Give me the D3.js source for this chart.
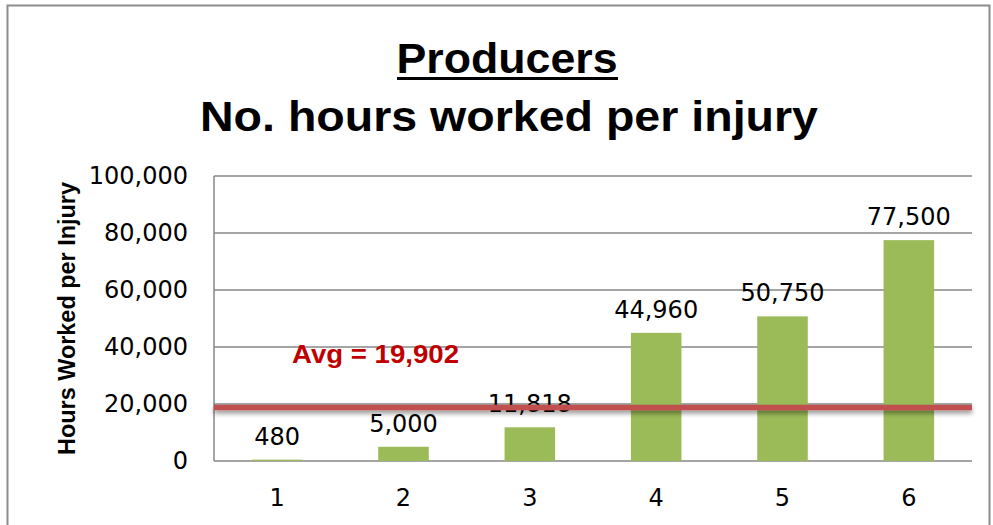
<!DOCTYPE html>
<html>
<head>
<meta charset="utf-8">
<script src="https://cdn.jsdelivr.net/npm/d3@7"></script>
<style>
  body { margin: 0; background: #fff; }
  svg { display: block; }
</style>
</head>
<body>
<div id="drawArea"></div>
<script>
// chart data
var categories = ["1", "2", "3", "4", "5", "6"];
var hoursPerInjury = [480, 5000, 11818, 44960, 50750, 77500];
var avgValue = 19902;
var yTicks = [0, 20000, 40000, 60000, 80000, 100000];
var titleLines = ["Producers", "No. hours worked per injury"];
var yAxisTitle = "Hours Worked per Injury";

var svg_width = 993;
var svg_height = 525;
var margin = {top: 176, right: 21, bottom: 64, left: 214};

var barColor = "#9BBB59";
var gridColor = "#878787";
var avgColor = "#C0504D";
var numFont = "'DejaVu Sans', Verdana, sans-serif";
var boldFont = "'Liberation Sans', Arial, sans-serif";

var svg = d3.select("#drawArea").append("svg")
	.attr("width", svg_width)
	.attr("height", svg_height);

// soft drop shadow for the average line (user space so a flat shape still renders)
var defs = svg.append("defs");
var shadow = defs.append("filter")
	.attr("id", "lineShadow")
	.attr("filterUnits", "userSpaceOnUse")
	.attr("x", 0).attr("y", 380)
	.attr("width", svg_width).attr("height", 60);
shadow.append("feGaussianBlur").attr("in", "SourceAlpha").attr("stdDeviation", 2.5).attr("result", "blur");
shadow.append("feOffset").attr("in", "blur").attr("dy", 3).attr("result", "off");
shadow.append("feComponentTransfer").attr("in", "off").attr("result", "soft")
	.append("feFuncA").attr("type", "linear").attr("slope", 0.45);
var merge = shadow.append("feMerge");
merge.append("feMergeNode").attr("in", "soft");
merge.append("feMergeNode").attr("in", "SourceGraphic");

// outer chart border
svg.append("rect")
	.attr("x", 7.5).attr("y", 5.5)
	.attr("width", 982).attr("height", 540)
	.attr("fill", "none")
	.attr("stroke", "#8c8c8c")
	.attr("stroke-width", 2);

var plotW = svg_width - margin.left - margin.right;
var plotH = svg_height - margin.top - margin.bottom;

var x = d3.scaleBand()
	.domain(categories)
	.range([margin.left, margin.left + plotW])
	.paddingInner(0.6)
	.paddingOuter(0.3);

var y = d3.scaleLinear()
	.domain([0, 100000])
	.range([margin.top + plotH, margin.top]);

// gridlines
svg.append("g")
	.selectAll("line")
	.data(yTicks)
	.enter()
	.append("line")
		.attr("x1", margin.left)
		.attr("x2", margin.left + plotW)
		.attr("y1", function(d) { return y(d); })
		.attr("y2", function(d) { return y(d); })
		.attr("stroke", gridColor)
		.attr("stroke-width", 1.5);

svg.append("line")
	.attr("x1", margin.left).attr("x2", margin.left)
	.attr("y1", y(100000)).attr("y2", y(0))
	.attr("stroke", gridColor)
	.attr("stroke-width", 1.5);

// y axis
var yAxis = d3.axisLeft(y)
	.tickValues(yTicks)
	.tickSize(0)
	.tickPadding(26)
	.tickFormat(d3.format(","));

var yg = svg.append("g")
	.attr("transform", "translate(" + margin.left + ",0)")
	.call(yAxis);
yg.select(".domain").remove();
yg.selectAll("text")
	.attr("font-family", numFont)
	.attr("font-size", 24)
	.attr("fill", "#000");

// x axis
var xAxis = d3.axisBottom(x).tickSize(0).tickPadding(28);
var xg = svg.append("g")
	.attr("transform", "translate(0," + y(0) + ")")
	.call(xAxis);
xg.select(".domain").remove();
xg.selectAll("text")
	.attr("font-family", numFont)
	.attr("font-size", 24)
	.attr("fill", "#000");

// bars
svg.append("g")
	.selectAll("rect")
	.data(hoursPerInjury)
	.enter()
	.append("rect")
		.attr("x", function(d, i) { return x(categories[i]); })
		.attr("width", x.bandwidth())
		.attr("y", function(d) { return y(d); })
		.attr("height", function(d) { return y(0) - y(d); })
		.attr("fill", barColor);

// value labels
svg.append("g")
	.selectAll("text")
	.data(hoursPerInjury)
	.enter()
	.append("text")
		.attr("x", function(d, i) { return x(categories[i]) + x.bandwidth() / 2; })
		.attr("y", function(d) { return y(d) - 15; })
		.attr("text-anchor", "middle")
		.attr("font-family", numFont)
		.attr("font-size", 24)
		.attr("fill", "#000")
		.text(function(d) { return d3.format(",")(d); });

// average line
svg.append("rect")
	.attr("x", margin.left)
	.attr("width", plotW)
	.attr("y", y(avgValue) + 0.5)
	.attr("height", 5.5)
	.attr("fill", avgColor)
	.attr("filter", "url(#lineShadow)");

svg.append("text")
	.attr("x", 292)
	.attr("y", y(40000) + 16)
	.attr("font-family", boldFont)
	.attr("font-weight", "bold")
	.attr("font-size", 26)
	.attr("fill", "#C00000")
	.attr("textLength", 167)
	.attr("lengthAdjust", "spacingAndGlyphs")
	.text("Avg = " + d3.format(",")(avgValue));

// titles
svg.append("text")
	.attr("x", 507)
	.attr("y", 73)
	.attr("text-anchor", "middle")
	.attr("font-family", boldFont)
	.attr("font-weight", "bold")
	.attr("font-size", 43)
	.attr("fill", "#000")
	.attr("textLength", 221)
	.attr("lengthAdjust", "spacingAndGlyphs")
	.text(titleLines[0]);

svg.append("line")
	.attr("x1", 397).attr("x2", 618)
	.attr("y1", 78.5).attr("y2", 78.5)
	.attr("stroke", "#000")
	.attr("stroke-width", 3);

svg.append("text")
	.attr("x", 509)
	.attr("y", 131)
	.attr("text-anchor", "middle")
	.attr("font-family", boldFont)
	.attr("font-weight", "bold")
	.attr("font-size", 43)
	.attr("fill", "#000")
	.attr("textLength", 618)
	.attr("lengthAdjust", "spacingAndGlyphs")
	.text(titleLines[1]);

// y axis title
svg.append("text")
	.attr("transform", "translate(75," + (y(0) + y(100000)) / 2 + ") rotate(-90)")
	.attr("text-anchor", "middle")
	.attr("font-family", boldFont)
	.attr("font-weight", "bold")
	.attr("font-size", 23)
	.attr("fill", "#000")
	.attr("textLength", 273)
	.attr("lengthAdjust", "spacingAndGlyphs")
	.text(yAxisTitle);
</script>
</body>
</html>
